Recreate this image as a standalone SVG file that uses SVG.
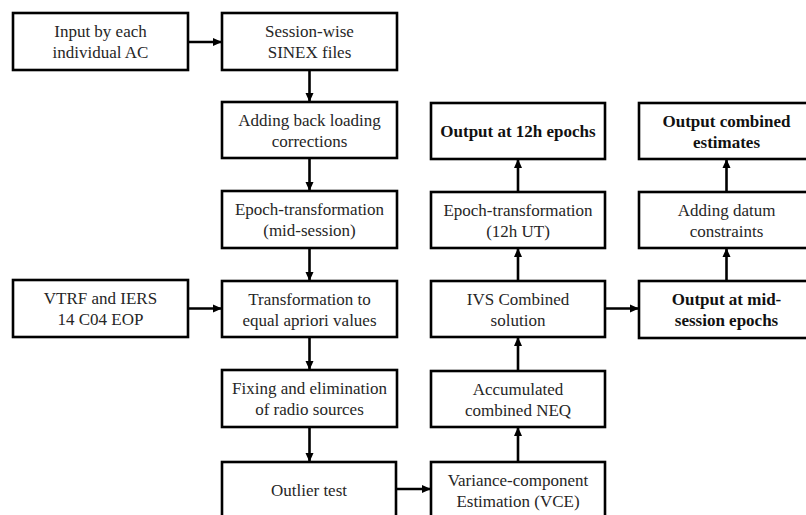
<svg xmlns="http://www.w3.org/2000/svg" width="806" height="515" viewBox="0 0 806 515" font-family="Liberation Serif, serif">
<style>
.box{fill:#fff;stroke:#000;stroke-width:2.6}
.t{font-size:17px;fill:#262626;text-anchor:middle}
.b{font-weight:bold;fill:#111}
.c{stroke:#000;stroke-width:2.6;fill:none;marker-end:url(#ah)}
</style>
<defs>
<marker id="ah" markerUnits="userSpaceOnUse" markerWidth="10" markerHeight="10" refX="9" refY="5" orient="auto">
<path d="M0,1 L9,5 L0,9 Z" fill="#000"/>
</marker>
</defs>
<rect width="806" height="515" fill="#fff"/>
<g id="connectors">
<line class="c" x1="188" y1="42" x2="222" y2="42"/>
<line class="c" x1="309.5" y1="70" x2="309.5" y2="102"/>
<line class="c" x1="309.5" y1="158" x2="309.5" y2="191"/>
<line class="c" x1="309.5" y1="248" x2="309.5" y2="281"/>
<line class="c" x1="188" y1="308.5" x2="222" y2="308.5"/>
<line class="c" x1="309.5" y1="337" x2="309.5" y2="370"/>
<line class="c" x1="309.5" y1="427" x2="309.5" y2="462"/>
<line class="c" x1="396" y1="489" x2="431" y2="489"/>
<line class="c" x1="518" y1="462" x2="518" y2="427"/>
<line class="c" x1="518" y1="370" x2="518" y2="337"/>
<line class="c" x1="518" y1="281" x2="518" y2="248"/>
<line class="c" x1="518" y1="191" x2="518" y2="159"/>
<line class="c" x1="605" y1="308.5" x2="639" y2="308.5"/>
<line class="c" x1="726.5" y1="281" x2="726.5" y2="248"/>
<line class="c" x1="726.5" y1="191" x2="726.5" y2="159"/>
</g>
<g id="input">
<rect class="box" x="13" y="13" width="175" height="57"/>
<text class="t" x="100.5" y="37">Input by each</text>
<text class="t" x="100.5" y="58">individual AC</text>
</g>
<g id="sinex">
<rect class="box" x="222" y="13" width="175" height="57"/>
<text class="t" x="309.5" y="37">Session-wise</text>
<text class="t" x="309.5" y="58">SINEX files</text>
</g>
<g id="backloading">
<rect class="box" x="222" y="102" width="175" height="56"/>
<text class="t" x="309.5" y="125.5">Adding back loading</text>
<text class="t" x="309.5" y="146.5">corrections</text>
</g>
<g id="epochmid">
<rect class="box" x="222" y="191" width="175" height="57"/>
<text class="t" x="309.5" y="215">Epoch-transformation</text>
<text class="t" x="309.5" y="236">(mid-session)</text>
</g>
<g id="vtrf">
<rect class="box" x="13" y="280" width="175" height="57"/>
<text class="t" x="100.5" y="304">VTRF and IERS</text>
<text class="t" x="100.5" y="325">14 C04 EOP</text>
</g>
<g id="apriori">
<rect class="box" x="222" y="281" width="175" height="56"/>
<text class="t" x="309.5" y="304.5">Transformation to</text>
<text class="t" x="309.5" y="325.5">equal apriori values</text>
</g>
<g id="fixing">
<rect class="box" x="222" y="370" width="175" height="57"/>
<text class="t" x="309.5" y="394">Fixing and elimination</text>
<text class="t" x="309.5" y="415">of radio sources</text>
</g>
<g id="outlier">
<rect class="box" x="222" y="462" width="174" height="60"/>
<text class="t" x="309" y="495.5">Outlier test</text>
</g>
<g id="vce">
<rect class="box" x="431" y="462" width="174" height="60"/>
<text class="t" x="518" y="485.5">Variance-component</text>
<text class="t" x="518" y="506.5">Estimation (VCE)</text>
</g>
<g id="neq">
<rect class="box" x="431" y="371" width="174" height="56"/>
<text class="t" x="518" y="394.5">Accumulated</text>
<text class="t" x="518" y="415.5">combined NEQ</text>
</g>
<g id="ivs">
<rect class="box" x="431" y="281" width="174" height="56"/>
<text class="t" x="518" y="304.5">IVS Combined</text>
<text class="t" x="518" y="325.5">solution</text>
</g>
<g id="epoch12">
<rect class="box" x="431" y="192" width="174" height="56"/>
<text class="t" x="518" y="215.5">Epoch-transformation</text>
<text class="t" x="518" y="236.5">(12h UT)</text>
</g>
<g id="out12">
<rect class="box" x="431" y="103" width="174" height="56"/>
<text class="t b" x="518" y="137">Output at 12h epochs</text>
</g>
<g id="outmid">
<rect class="box" x="639" y="281" width="176" height="57"/>
<text class="t b" x="726.5" y="305">Output at mid-</text>
<text class="t b" x="726.5" y="326">session epochs</text>
</g>
<g id="datum">
<rect class="box" x="639" y="192" width="176" height="56"/>
<text class="t" x="726.5" y="215.5">Adding datum</text>
<text class="t" x="726.5" y="236.5">constraints</text>
</g>
<g id="outcomb">
<rect class="box" x="639" y="103" width="176" height="56"/>
<text class="t b" x="726.5" y="126.5">Output combined</text>
<text class="t b" x="726.5" y="147.5">estimates</text>
</g>
</svg>
